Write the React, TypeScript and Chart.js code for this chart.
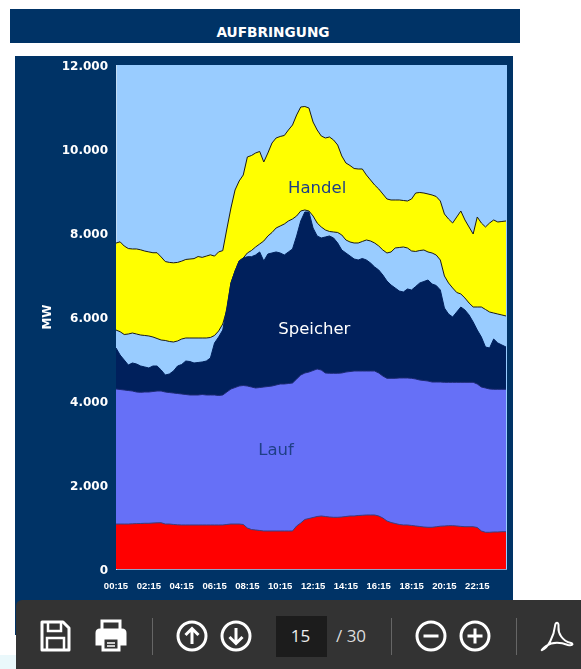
import React, { useEffect, useRef } from "react";
import { Chart, registerables } from "chart.js";

Chart.register(...registerables);

const hours = ["00","01","02","03","04","05","06","07","08","09","10","11","12","13","14","15","16","17","18","19","20","21","22","23"];
const quarters = ["15","30","45","00"];
const categories: string[] = [];
hours.forEach((h, i) => quarters.forEach((q) => {
  categories.push(q === "00" ? `${hours[i + 1] ?? "24"}:00` : `${h}:${q}`);
}));

// Cumulative upper edge of each band, in MW
const redTop = [1071,1071,1071,1071,1076,1081,1083,1088,1088,1095,1100,1102,1071,1071,1060,1052,1048,1048,1048,1048,1048,1048,1048,1048,1048,1048,1048,1060,1071,1071,1071,1060,976,940,929,917,905,905,905,905,905,905,905,905,1024,1095,1179,1202,1226,1250,1262,1250,1238,1231,1231,1238,1250,1262,1262,1274,1279,1286,1286,1286,1262,1214,1143,1107,1083,1060,1048,1048,1036,1024,1012,1000,993,993,1005,1019,1024,1031,1031,1024,1014,1007,1007,1007,988,905,874,874,881,881,888,888];
const laufTop = [4286,4274,4262,4250,4238,4214,4207,4214,4214,4226,4238,4238,4214,4202,4190,4179,4167,4155,4143,4143,4143,4155,4143,4143,4143,4131,4143,4214,4286,4321,4357,4369,4357,4333,4310,4321,4333,4345,4357,4381,4405,4405,4417,4429,4524,4619,4667,4690,4726,4762,4738,4667,4660,4660,4660,4667,4690,4702,4714,4714,4714,4714,4714,4714,4667,4595,4540,4540,4540,4548,4548,4548,4540,4524,4500,4488,4476,4452,4452,4452,4445,4445,4445,4445,4445,4445,4445,4445,4405,4333,4310,4286,4279,4279,4279,4279];
const speicherTop = [5262,5095,4976,4857,4905,4881,4833,4810,4786,4833,4833,4738,4619,4643,4714,4833,4869,4952,4940,4905,4917,4929,4952,5024,5381,5524,5690,6214,6810,7095,7333,7405,7436,7436,7476,7548,7333,7500,7524,7548,7524,7476,7548,7619,7929,8286,8500,8500,8119,7929,7881,7905,7929,7881,7762,7595,7524,7453,7381,7357,7393,7357,7286,7191,7119,7000,6857,6762,6691,6619,6595,6667,6643,6726,6810,6845,6881,6786,6750,6643,6214,6071,6000,6119,6238,6167,6048,5881,5690,5524,5286,5262,5476,5381,5333,5286];
const bandTop = [5690,5650,5583,5595,5619,5595,5571,5560,5548,5524,5488,5452,5441,5417,5405,5429,5476,5500,5500,5500,5500,5500,5500,5512,5560,5667,5833,6167,6810,7095,7333,7405,7524,7583,7667,7738,7810,7929,8012,8119,8167,8214,8286,8334,8405,8524,8548,8524,8405,8238,8143,8072,8036,8024,8012,7953,7834,7786,7762,7762,7798,7834,7810,7762,7691,7595,7524,7548,7643,7655,7667,7643,7572,7560,7583,7595,7548,7524,7476,7357,6976,6810,6691,6583,6548,6452,6333,6238,6238,6238,6179,6119,6095,6071,6048,6024];
const handelTop = [7760,7790,7690,7630,7620,7620,7600,7570,7550,7530,7530,7430,7320,7300,7290,7300,7330,7370,7380,7390,7440,7420,7450,7480,7450,7550,7580,8095,8595,9024,9238,9381,9810,9845,9905,9941,9691,9905,10143,10262,10298,10322,10453,10572,10810,11000,11012,10976,10643,10453,10310,10262,10286,10214,10095,9834,9667,9607,9536,9524,9524,9381,9262,9143,9048,8929,8810,8786,8786,8786,8774,8762,8810,8952,8965,8952,8929,8905,8869,8762,8453,8334,8238,8381,8524,8310,8143,7976,8381,8238,8143,8238,8310,8262,8274,8286];

const chartLabels = [
  { text: "Handel", index: 49, value: 9060, color: "#1f3f86" },
  { text: "Speicher", index: 48.3, value: 5700, color: "#ffffff" },
  { text: "Lauf", index: 39, value: 2810, color: "#1f3f86" },
];

const PLOT_BG = "#99CCFF";
const PANEL = "#003366";

const plotPlugin = {
  id: "plotDecor",
  beforeDraw(chart: any) {
    const { ctx, chartArea: a } = chart;
    ctx.save();
    ctx.fillStyle = PLOT_BG;
    ctx.fillRect(a.left, a.top, a.right - a.left + 1, a.bottom - a.top);
    ctx.restore();
  },
  afterDraw(chart: any) {
    const { ctx, scales } = chart;
    ctx.save();
    ctx.font = "16.5px 'DejaVu Sans'";
    ctx.textAlign = "center";
    ctx.textBaseline = "middle";
    chartLabels.forEach((l) => {
      ctx.fillStyle = l.color;
      ctx.fillText(l.text, scales.x.getPixelForValue(l.index), scales.y.getPixelForValue(l.value));
    });
    ctx.restore();
  },
};

const edge = (data: number[], colour: string, width: number, label: string) => ({
  label,
  data,
  fill: "origin",
  backgroundColor: colour,
  borderColor: colour,
  borderWidth: width,
  pointRadius: 0,
  tension: 0,
});

function Icon({ left, top, w, h, children }: any) {
  return (
    <svg style={{ position: "absolute", left, top, width: w, height: h }} viewBox={`0 0 ${w} ${h}`} fill="none" stroke="#fff" strokeWidth={3}>
      {children}
    </svg>
  );
}

const box = (left: number, top: number, width: number, height: number, background: string, extra: any = {}) => ({
  position: "absolute" as const, left, top, width, height, background, ...extra,
});

export default function App() {
  const ref = useRef<HTMLCanvasElement>(null);
  useEffect(() => {
    const chart = new Chart(ref.current!, {
      type: "line",
      data: {
        labels: categories,
        datasets: [
          { ...edge(redTop, "#FF0000", 0, "Rot"), borderColor: "#3a3f7c", borderWidth: 1 },
          { ...edge(laufTop, "#6670F7", 0, "Lauf"), borderColor: "#1c2a70", borderWidth: 1 },
          edge(speicherTop, "#00205C", 1, "Speicher"),
          { ...edge(bandTop, PLOT_BG, 0, "Band"), borderColor: "#1a1a1a", borderWidth: 1 },
          { ...edge(handelTop, "#FFFF00", 0, "Handel"), borderColor: "#1a1a1a", borderWidth: 1 },
        ],
      },
      options: {
        responsive: false,
        animation: false,
        layout: { padding: { left: 41, top: 65, right: 75, bottom: 0 } },
        plugins: { legend: { display: false }, tooltip: { enabled: false }, title: { display: false } },
        scales: {
          x: {
            offset: false,
            grid: { display: false, drawTicks: false },
            border: { display: true, color: "#8ea0c8", width: 1 },
            afterFit: (s: any) => { s.height = 100; },
            ticks: {
              autoSkip: false,
              maxRotation: 0,
              minRotation: 0,
              padding: 12,
              color: "#ffffff",
              font: { family: "'Liberation Sans'", size: 9.5, weight: "bold" },
              callback: (_: any, i: number) => (i % 8 === 0 ? categories[i] : ""),
            },
          },
          y: {
            min: 0,
            max: 12000,
            grid: { display: false, drawTicks: false },
            border: { display: true, color: "#c4dcf4", width: 1 },
            afterFit: (s: any) => { s.width = 75; },
            title: { display: true, text: "MW", color: "#ffffff", padding: 0, font: { family: "'DejaVu Sans'", size: 12, weight: "bold" } },
            ticks: {
              stepSize: 2000,
              padding: 8,
              color: "#ffffff",
              // blank first line with a 4px line height moves each label 2px down
              font: { family: "'DejaVu Sans'", size: 12, weight: "bold", lineHeight: "4px" },
              callback: (v: any) => ["", v === 0 ? "0" : `${Number(v) / 1000}.000`],
            },
          },
        },
      },
      plugins: [plotPlugin],
    } as any);
    return () => chart.destroy();
  }, []);

  return (
    <div style={{ position: "fixed", left: 0, top: 0, width: 581, height: 669, overflow: "hidden", background: "#fff" }}>
      <div style={box(0, 655, 16, 14, "#eaf8fb")} />
      <div style={box(10, 9, 510, 34, PANEL, { color: "#fff", font: "bold 13.7px 'DejaVu Sans'", lineHeight: "46px", paddingLeft: 16, boxSizing: "border-box", textAlign: "center", overflow: "hidden" })}>AUFBRINGUNG</div>
      <div style={box(15, 56, 498, 579, PANEL)} />
      <canvas ref={ref} width={581} height={669} style={{ position: "absolute", left: 0, top: 0, display: "block" }} />
      <div style={box(16, 600, 565, 69, "#333333", { borderTopLeftRadius: 6 })} />
      <Icon left={40} top={620} w={31} h={32}>
        <path d="M2 2H23L29 8V30H2Z" strokeLinejoin="round" />
        <path d="M8 2V11H21V2M7 30V18H24V30" strokeWidth={2.5} />
      </Icon>
      <Icon left={94} top={619} w={34} h={33}>
        <path d="M8 12V2H26V12" strokeWidth={3} />
        <path d="M8 25H3V14Q3 11 6 11H28Q31 11 31 14V25H26" fill="#fff" />
        <path d="M9 19H25V31H9Z" fill="#333" />
        <path d="M13 24H21M13 27H21" strokeWidth={1.5} />
      </Icon>
      <div style={box(152, 618, 1, 37, "#666")} />
      <Icon left={176} top={620} w={32} h={32}>
        <circle cx={16} cy={16} r={14} />
        <path d="M16 24V9M9.5 15L16 8.5L22.5 15" />
      </Icon>
      <Icon left={220} top={620} w={32} h={32}>
        <circle cx={16} cy={16} r={14} />
        <path d="M16 8V23M9.5 17L16 23.5L22.5 17" />
      </Icon>
      <div style={box(276, 616, 51, 41, "#1c1c1c", { color: "#eee", font: "17px 'Open Sans'", lineHeight: "39px", textAlign: "center", paddingRight: 2, boxSizing: "border-box" })}>15</div>
      <div style={{ position: "absolute", left: 336, top: 624, color: "#ddd", font: "17px 'Open Sans'", lineHeight: "24px", whiteSpace: "pre" }}>/ 30</div>
      <div style={box(391, 618, 1, 37, "#666")} />
      <Icon left={415} top={620} w={32} h={32}>
        <circle cx={16} cy={16} r={14} />
        <path d="M8.5 16H23.5" />
      </Icon>
      <Icon left={459} top={620} w={32} h={32}>
        <circle cx={16} cy={16} r={14} />
        <path d="M8.5 16H23.5M16 8.5V23.5" />
      </Icon>
      <div style={box(516, 618, 1, 37, "#666")} />
      <Icon left={540} top={620} w={34} h={33}>
        <path d="M2 30C8 28 14 16 15 6C15.500 2 19 1 18.500 7C18 13 22 21 31 23C34 24 32 26 28 25C20 22 12 22 6 26C3 28 1 31 2 30Z" strokeWidth={2} strokeLinejoin="round" />
      </Icon>
    </div>
  );
}
